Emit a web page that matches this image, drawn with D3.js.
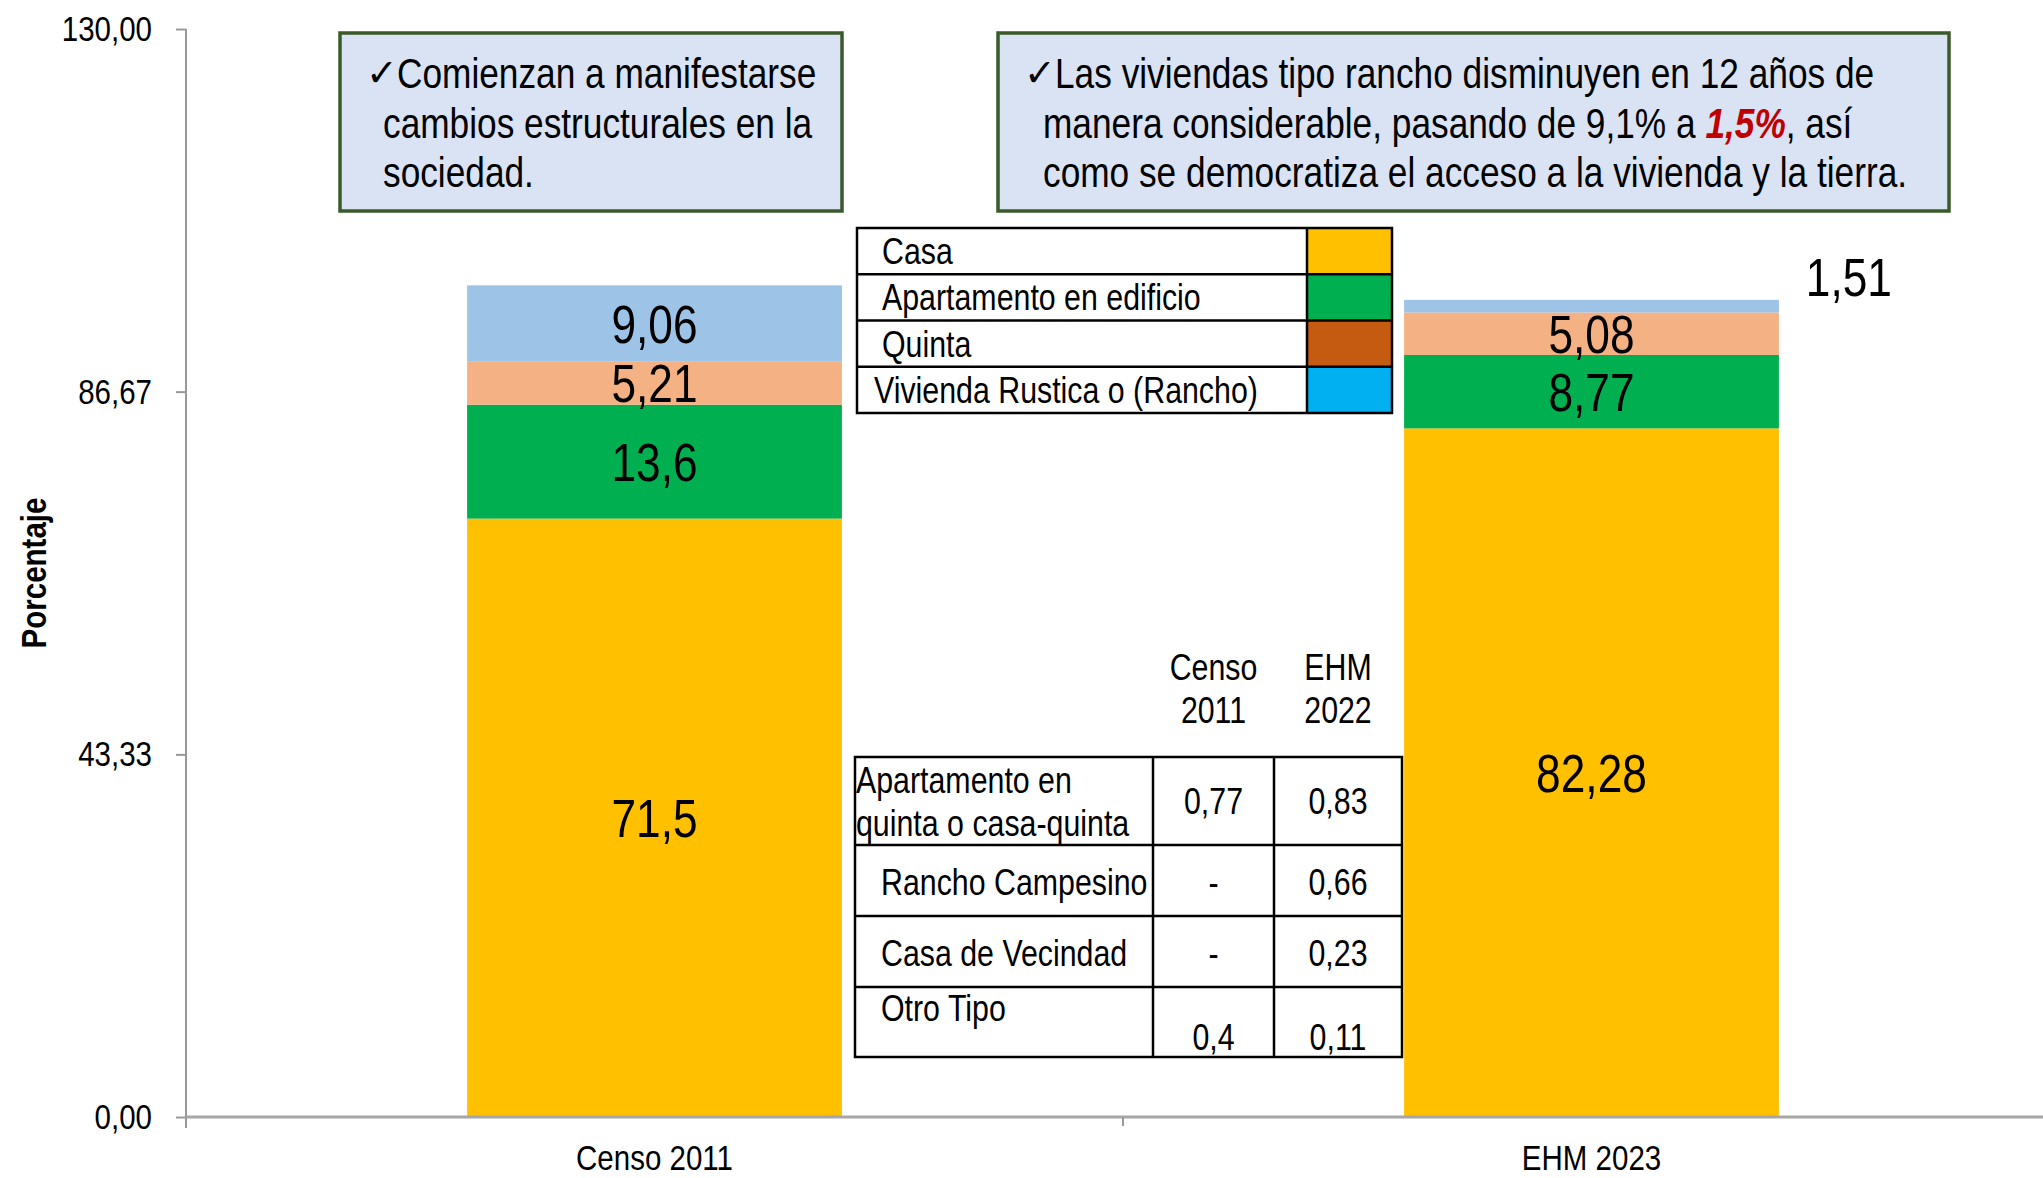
<!DOCTYPE html>
<html>
<head>
<meta charset="utf-8">
<script src="https://cdn.jsdelivr.net/npm/d3@7"></script>
<style>
  body { margin: 0; background: #fff; }
  svg text { font-family: "Liberation Sans", Arial, sans-serif; fill: #000; }
</style>
</head>
<body>
<svg id="chart" width="2043" height="1178"></svg>
<script>
// categories and stacked series (bottom to top)
const categories = ['Censo 2011', 'EHM 2023'];
const seriesNames = ['Casa', 'Apartamento en edificio', 'Quinta', 'Vivienda Rustica o (Rancho)'];
const casa = [71.5, 82.28];
const apartamento = [13.6, 8.77];
const quinta = [5.21, 5.08];
const rancho = [9.06, 1.51];

const yTicks = [0, 43.33, 86.67, 130];

// small side table
const otherHeaders = [['Censo', '2011'], ['EHM', '2022']];
const otherTypes = [['Apartamento en', 'quinta o casa-quinta'], ['Rancho Campesino'], ['Casa de Vecindad'], ['Otro Tipo']];
const otherCenso = ['0,77', '-', '-', '0,4'];
const otherEhm = ['0,83', '0,66', '0,23', '0,11'];

const barColors = ['#FFC000', '#00B050', '#F4B183', '#9DC3E6'];
const legendColors = ['#FFC000', '#00B050', '#C55A11', '#00B0F0'];

const seriesValues = [casa, apartamento, quinta, rancho];
const svg = d3.select('#chart');
const comma = v => String(v).replace('.', ',');
const NARROW = 0.82; // no Arial Narrow installed, squeeze Liberation Sans instead

const x = d3.scaleBand()
  .domain(categories)
  .range([186, 2060])
  .paddingInner(0.6)
  .paddingOuter(0.3);

const y = d3.scaleLinear().domain([0, 130]).range([1117, 29]);

const rows = categories.map((c, i) => {
  const r = { cat: c };
  seriesValues.forEach((s, k) => { r['s' + k] = s[i]; });
  return r;
});
const stack = d3.stack().keys(['s0', 's1', 's2', 's3'])(rows);

// bars
const layers = svg.append('g').attr('class', 'bars')
  .selectAll('g')
  .data(stack)
  .join('g')
  .attr('fill', (d, i) => barColors[i]);

layers.selectAll('rect')
  .data(d => d)
  .join('rect')
  .attr('x', d => x(d.data.cat))
  .attr('width', x.bandwidth())
  .attr('y', d => y(d[1]))
  .attr('height', d => y(d[0]) - y(d[1]));

// segment labels (thin segments get their label outside, up right)
layers.selectAll('text')
  .data((d, k) => d.map((p, i) => ({ p, v: seriesValues[k][i] })))
  .join('text')
  .attr('font-size', 54)
  .attr('text-anchor', 'middle')
  .attr('dy', '0.36em')
  .attr('x', d => {
    const h = y(d.p[0]) - y(d.p[1]);
    return h < 20 ? x(d.p.data.cat) + x.bandwidth() + 70 : x(d.p.data.cat) + x.bandwidth() / 2;
  })
  .attr('y', d => {
    const h = y(d.p[0]) - y(d.p[1]);
    return h < 20 ? y(d.p[1]) - 23 : (y(d.p[0]) + y(d.p[1])) / 2;
  })
  .text(d => comma(d.v));

// y axis
const yAxis = svg.append('g')
  .attr('transform', 'translate(186,0)')
  .call(d3.axisLeft(y).tickValues(yTicks).tickSize(10).tickSizeOuter(0).tickPadding(24)
    .tickFormat(d => d3.format('.2f')(d).replace('.', ',')));
yAxis.select('.domain').attr('stroke', '#999').attr('stroke-width', 2).attr('d', 'M0,29V1128');
yAxis.selectAll('.tick line').attr('stroke', '#999').attr('stroke-width', 2);
yAxis.selectAll('.tick text').attr('font-size', 36);

// x axis
const xAxis = svg.append('g')
  .attr('transform', `translate(0,${y(0)})`)
  .call(d3.axisBottom(x).tickSize(0).tickPadding(27));
xAxis.select('.domain').attr('stroke', '#A6A6A6').attr('stroke-width', 3).attr('d', 'M186,0H2043');
xAxis.selectAll('.tick text').attr('font-size', 36);
const mid = (x(categories[0]) + x.bandwidth() + x(categories[1])) / 2;
xAxis.append('line').attr('x1', mid).attr('x2', mid).attr('y1', 0).attr('y2', 9)
  .attr('stroke', '#999').attr('stroke-width', 2);

// y axis title
svg.append('text')
  .attr('transform', 'translate(33,573) rotate(-90)')
  .attr('text-anchor', 'middle')
  .attr('dy', '0.35em')
  .attr('font-size', 36)
  .attr('font-weight', 'bold')
  .text('Porcentaje');

// callout boxes
function callout(x0, x1, lines, firstX, restX) {
  const g = svg.append('g');
  g.append('rect').attr('x', x0).attr('y', 33).attr('width', x1 - x0).attr('height', 178)
    .attr('fill', '#DAE3F3').attr('stroke', '#3A5A2A').attr('stroke-width', 3.5);
  g.append('text').attr('class', 'keep').attr('x', firstX - 31).attr('y', 86).attr('font-size', 38)
    .attr('font-weight', 'bold').style('font-family', 'DejaVu Sans').text('\u2713');
  lines.forEach((ln, i) => {
    const t = g.append('text').attr('x', i === 0 ? firstX : restX).attr('y', 88 + i * 49.5)
      .attr('font-size', 43);
    ln.forEach(part => {
      const ts = t.append('tspan').text(part.t);
      if (part.hl) ts.style('fill', '#C00000').attr('font-weight', 'bold').attr('font-style', 'italic');
    });
  });
}
callout(340, 842, [
  [{ t: 'Comienzan a manifestarse' }],
  [{ t: 'cambios estructurales en la' }],
  [{ t: 'sociedad.' }]
], 397, 383);
callout(998, 1949, [
  [{ t: 'Las viviendas tipo rancho disminuyen en 12 años de' }],
  [{ t: 'manera considerable, pasando de 9,1% a ' }, { t: '1,5%', hl: true }, { t: ', así' }],
  [{ t: 'como se democratiza el acceso a la vivienda y la tierra.' }]
], 1055, 1043);

// legend table
const lg = svg.append('g');
const lgY = d3.scaleBand().domain(seriesNames).range([228, 413]);
lg.selectAll('rect.sw').data(seriesNames).join('rect').attr('class', 'sw')
  .attr('x', 1307).attr('width', 85).attr('y', d => lgY(d)).attr('height', lgY.bandwidth())
  .attr('fill', (d, i) => legendColors[i]);
lg.append('rect').attr('x', 857).attr('y', 228).attr('width', 535).attr('height', 185)
  .attr('fill', 'none').attr('stroke', '#000').attr('stroke-width', 2.5);
lg.selectAll('line.r').data(seriesNames.slice(1)).join('line').attr('class', 'r')
  .attr('x1', 857).attr('x2', 1392).attr('y1', d => lgY(d)).attr('y2', d => lgY(d))
  .attr('stroke', '#000').attr('stroke-width', 2.5);
lg.append('line').attr('x1', 1307).attr('x2', 1307).attr('y1', 228).attr('y2', 413)
  .attr('stroke', '#000').attr('stroke-width', 2.5);
lg.selectAll('text').data(seriesNames).join('text')
  .attr('x', (d, i) => i === 3 ? 874 : 882)
  .attr('y', d => lgY(d) + lgY.bandwidth() / 2)
  .attr('dy', '0.35em')
  .attr('font-size', 37)
  .text(d => d);

// other types table
const tb = svg.append('g');
const colX = [855, 1153, 1274, 1402];
const rowY = [757, 845, 916, 987, 1057];
const colMid = [(colX[1] + colX[2]) / 2, (colX[2] + colX[3]) / 2];
otherHeaders.forEach((h, c) => h.forEach((ln, k) => {
  tb.append('text').attr('x', colMid[c]).attr('y', 667 + k * 43).attr('dy', '0.35em')
    .attr('text-anchor', 'middle').attr('font-size', 37).text(ln);
}));
tb.append('rect').attr('x', colX[0]).attr('y', rowY[0]).attr('width', colX[3] - colX[0])
  .attr('height', rowY[4] - rowY[0]).attr('fill', '#fff').attr('stroke', '#000').attr('stroke-width', 2.5);
rowY.slice(1, 4).forEach(ry => tb.append('line').attr('x1', colX[0]).attr('x2', colX[3])
  .attr('y1', ry).attr('y2', ry).attr('stroke', '#000').attr('stroke-width', 2.5));
colX.slice(1, 3).forEach(cx => tb.append('line').attr('x1', cx).attr('x2', cx)
  .attr('y1', rowY[0]).attr('y2', rowY[4]).attr('stroke', '#000').attr('stroke-width', 2.5));

const labelY = [[780, 823], [882], [953], [1008]];
const valueY = [801, 882, 953, 1037];
otherTypes.forEach((lines, r) => {
  lines.forEach((ln, k) => tb.append('text').attr('x', r === 0 ? 856 : 881)
    .attr('y', labelY[r][k]).attr('dy', '0.35em').attr('font-size', 37).text(ln));
  tb.append('text').attr('x', colMid[0]).attr('y', valueY[r]).attr('dy', '0.35em')
    .attr('text-anchor', 'middle').attr('font-size', 37).text(otherCenso[r]);
  tb.append('text').attr('x', colMid[1]).attr('y', valueY[r]).attr('dy', '0.35em')
    .attr('text-anchor', 'middle').attr('font-size', 37).text(otherEhm[r]);
});

// condense every text horizontally (Arial Narrow look)
svg.selectAll('text').each(function () {
  const t = d3.select(this);
  if (t.classed('keep')) return;
  const tr = t.attr('transform');
  if (tr) {
    t.attr('transform', `${tr} scale(${NARROW},1)`);
  } else {
    const tx = +t.attr('x') || 0, ty = +t.attr('y') || 0;
    t.attr('x', 0).attr('y', 0).attr('transform', `translate(${tx},${ty}) scale(${NARROW},1)`);
  }
});
</script>
</body>
</html>
